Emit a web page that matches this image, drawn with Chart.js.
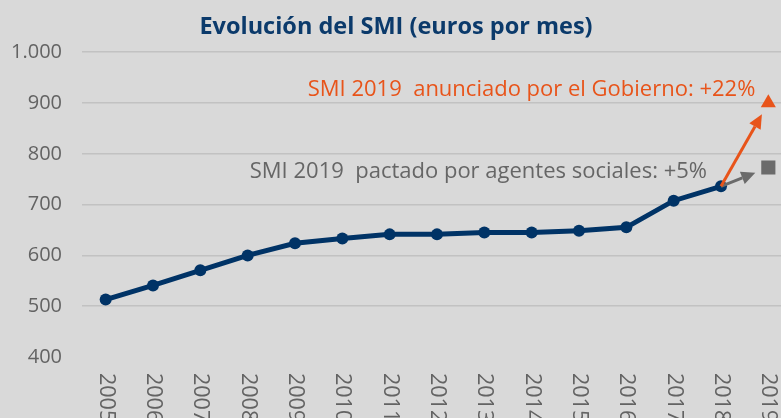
<!DOCTYPE html>
<html>
<head>
<meta charset="utf-8">
<script src="https://cdn.jsdelivr.net/npm/chart.js@4/dist/chart.umd.min.js"></script>
<style>
  html, body { margin: 0; padding: 0; background: #d9d9d9; overflow: hidden; }
  #wrap { width: 802px; height: 440px; }
</style>
</head>
<body>
<div id="wrap"><canvas id="grafico"></canvas></div>
<script>
const years = ['2005', '2006', '2007', '2008', '2009', '2010', '2011', '2012', '2013', '2014', '2015', '2016', '2017', '2018', '2019'];
const smi = [513, 540.9, 570.6, 600, 624, 633.3, 641.4, 641.4, 645.3, 645.3, 648.6, 655.2, 707.7, 735.9, null];
const smiGobierno2019 = 900;
const smiPactado2019 = 773;
const yTicks = [400, 500, 600, 700, 800, 900, 1000];

const txtGobierno = 'SMI 2019  anunciado por el Gobierno: +22%';
const txtPactado = 'SMI 2019  pactado por agentes sociales: +5%';

const navy = '#003366';
const naranja = '#e8541a';
const gris = '#6b6b6b';
const fuente = "'Open Sans', sans-serif";

const soloUltimo = (v) => years.map((y, i) => i === years.length - 1 ? v : null);

function flecha(ctx, x0, y0, x1, y1, recorte, color) {
    const ang = Math.atan2(y1 - y0, x1 - x0);
    const xe = x1 - Math.cos(ang) * recorte;
    const ye = y1 - Math.sin(ang) * recorte;
    const largo = 14, ancho = 6.5;
    const xb = xe - Math.cos(ang) * largo;
    const yb = ye - Math.sin(ang) * largo;
    ctx.save();
    ctx.strokeStyle = color;
    ctx.fillStyle = color;
    ctx.lineWidth = 3;
    ctx.beginPath();
    ctx.moveTo(x0, y0);
    ctx.lineTo(xb, yb);
    ctx.stroke();
    ctx.beginPath();
    ctx.moveTo(xe, ye);
    ctx.lineTo(xb + Math.sin(ang) * ancho, yb - Math.cos(ang) * ancho);
    ctx.lineTo(xb - Math.sin(ang) * ancho, yb + Math.cos(ang) * ancho);
    ctx.closePath();
    ctx.fill();
    ctx.restore();
}

// flechas, textos y etiquetas verticales del eje X
const extras = {
    id: 'extras',
    afterDatasetsDraw(chart) {
        const ctx = chart.ctx;
        const x = chart.scales.x, y = chart.scales.y;
        const i18 = years.indexOf('2018'), i19 = years.indexOf('2019');
        const x0 = x.getPixelForValue(i18), y0 = y.getPixelForValue(smi[i18]);
        const x1 = x.getPixelForValue(i19);

        flecha(ctx, x0, y0, x1, y.getPixelForValue(smiPactado2019), 14, gris);
        flecha(ctx, x0, y0, x1, y.getPixelForValue(smiGobierno2019), 13, naranja);

        ctx.save();
        ctx.font = '22px ' + fuente;
        ctx.textAlign = 'right';
        ctx.textBaseline = 'middle';
        ctx.fillStyle = naranja;
        ctx.fillText(txtGobierno, x1 - 13, y.getPixelForValue(926));
        ctx.fillStyle = '#666666';
        ctx.fillText(txtPactado, x0 - 14, y.getPixelForValue(764));
        ctx.restore();
    },
    afterDraw(chart) {
        const ctx = chart.ctx;
        const x = chart.scales.x;
        ctx.save();
        ctx.font = '21.5px ' + fuente;
        ctx.fillStyle = '#636363';
        ctx.textAlign = 'left';
        ctx.textBaseline = 'middle';
        years.forEach((lab, i) => {
            ctx.save();
            ctx.translate(x.getPixelForValue(i), chart.chartArea.bottom + 16);
            ctx.rotate(Math.PI / 2);
            ctx.fillText(lab, 0, 0);
            ctx.restore();
        });
        ctx.restore();
    }
};

new Chart(document.getElementById('grafico'), {
    type: 'line',
    data: {
        labels: years,
        datasets: [
            {
                data: smi,
                borderColor: navy,
                backgroundColor: navy,
                borderWidth: 5,
                pointRadius: 6,
                pointBorderWidth: 0,
                pointBackgroundColor: navy
            },
            {
                data: soloUltimo(smiGobierno2019),
                showLine: false,
                pointStyle: 'triangle',
                pointRadius: 8.7,
                pointBorderWidth: 0,
                pointBackgroundColor: naranja
            },
            {
                data: soloUltimo(smiPactado2019),
                showLine: false,
                pointStyle: 'rect',
                pointRadius: 10,
                pointBorderWidth: 0,
                pointBackgroundColor: gris
            }
        ]
    },
    options: {
        responsive: true,
        maintainAspectRatio: false,
        animation: false,
        layout: { padding: { top: 0, right: 10, bottom: 75, left: 0 } },
        plugins: {
            legend: { display: false },
            tooltip: { enabled: false },
            title: {
                display: true,
                text: 'Evolución del SMI (euros por mes)',
                color: '#0b3a6b',
                font: { family: fuente, size: 23.5, weight: 'bold' },
                padding: { top: 13, bottom: 11 }
            }
        },
        scales: {
            x: {
                offset: true,
                grid: { display: false },
                border: { display: false },
                ticks: { display: false }
            },
            y: {
                min: 400,
                max: 1000,
                afterBuildTicks: (s) => { s.ticks = yTicks.map(v => ({ value: v })); },
                afterFit: (s) => { s.width = 82; },
                border: { display: false },
                grid: {
                    drawTicks: false,
                    lineWidth: 1.5,
                    color: (c) => c.tick && c.tick.value === 400 ? 'rgba(0,0,0,0)' : '#c2c2c2'
                },
                ticks: {
                    padding: 20,
                    color: '#636363',
                    font: { family: fuente, size: 20 },
                    callback: (v) => String(v).replace(/\B(?=(\d{3})+(?!\d))/g, '.')
                }
            }
        }
    },
    plugins: [extras]
});
</script>
</body>
</html>
